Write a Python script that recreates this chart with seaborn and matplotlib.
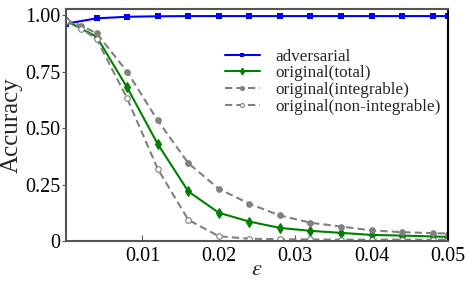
"""Accuracy vs epsilon — adversarial vs original models."""

import matplotlib

matplotlib.use("Agg")
import matplotlib.pyplot as plt
import seaborn as sns

# data
eps = [0.0, 0.004, 0.008, 0.012, 0.016, 0.020, 0.024, 0.028, 0.032,
       0.036, 0.040, 0.044, 0.048, 0.050]
eps_gray = [0.0, 0.002] + eps[1:]

adversarial = [0.962, 0.986, 0.993, 0.995, 0.996, 0.996, 0.996, 0.996,
               0.996, 0.996, 0.996, 0.996, 0.996, 0.996]
orig_total = [0.975, 0.905, 0.68, 0.43, 0.22, 0.125, 0.086, 0.058,
              0.045, 0.036, 0.027, 0.024, 0.020, 0.018]
orig_integrable = [0.98, 0.953, 0.92, 0.75, 0.534, 0.345, 0.231, 0.165,
                   0.113, 0.081, 0.064, 0.047, 0.039, 0.035, 0.033]
orig_nonintegrable = [0.975, 0.94, 0.895, 0.632, 0.32, 0.094, 0.021, 0.010,
                      0.008, 0.007, 0.006, 0.006, 0.006, 0.006, 0.006]

x_ticks = [0.01, 0.02, 0.03, 0.04, 0.05]
y_ticks = [0, 0.25, 0.5, 0.75, 1.0]
y_tick_labels = ["0", "0.25", "0.50", "0.75", "1.00"]

sns.set_style("ticks")
plt.rcParams["font.family"] = ["Liberation Serif", "DejaVu Serif"]
plt.rcParams["mathtext.fontset"] = "stix"

fig = plt.figure(figsize=(4.69, 2.84), dpi=100)
ax = fig.add_axes([0.1407, 0.1514, 0.8145, 0.8166])

sns.lineplot(x=eps, y=adversarial, ax=ax, color="#0000ff", lw=1.5,
             marker="s", markersize=5, markeredgewidth=0,
             label="adversarial")
sns.lineplot(x=eps, y=orig_total, ax=ax, color="#008000", lw=1.5,
             marker="d", markersize=5, markeredgewidth=0.8,
             markeredgecolor="#008000", label="original(total)")
sns.lineplot(x=eps_gray, y=orig_integrable, ax=ax, color="#808080", lw=1.5,
             dashes=False, linestyle=(0, (3.5, 2)), marker="o", markersize=4,
             markeredgewidth=0.8, markeredgecolor="#808080",
             label="original(integrable)")
sns.lineplot(x=eps_gray, y=orig_nonintegrable, ax=ax, color="#808080", lw=1.5,
             dashes=False, linestyle=(0, (3.5, 2)), marker="o", markersize=4,
             markeredgewidth=0.8, markeredgecolor="#808080",
             markerfacecolor="white", label="original(non-integrable)")

ax.set_xlim(0, 0.05)
ax.set_ylim(0, 1.027)
ax.set_xticks(x_ticks)
ax.set_xticklabels([f"{t:.2f}" for t in x_ticks])
ax.set_yticks(y_ticks)
ax.set_yticklabels(y_tick_labels)
ax.tick_params(axis="x", direction="in", length=4, pad=4, labelsize=14.5,
               colors="#555555", labelcolor="black")
ax.tick_params(axis="y", direction="out", length=3, pad=1, labelsize=14.5,
               colors="#555555", labelcolor="black")
ax.set_xlabel(r"$\varepsilon$", fontsize=16, labelpad=-3)
ax.set_ylabel("Accuracy", fontsize=18, labelpad=2)

for side in ["left", "bottom", "top"]:
    ax.spines[side].set_color("#555555")
    ax.spines[side].set_linewidth(1.5)
ax.spines["right"].set_color("black")
ax.spines["right"].set_linewidth(1.5)

ax.legend(loc="upper left", bbox_to_anchor=(0.416, 0.83), frameon=False,
          fontsize=12.3, borderpad=0, borderaxespad=0, labelspacing=0.05,
          handlelength=2.05, handletextpad=0.9, markerscale=0.7)

fig.savefig("out.png", dpi=100)
plt.close(fig)
